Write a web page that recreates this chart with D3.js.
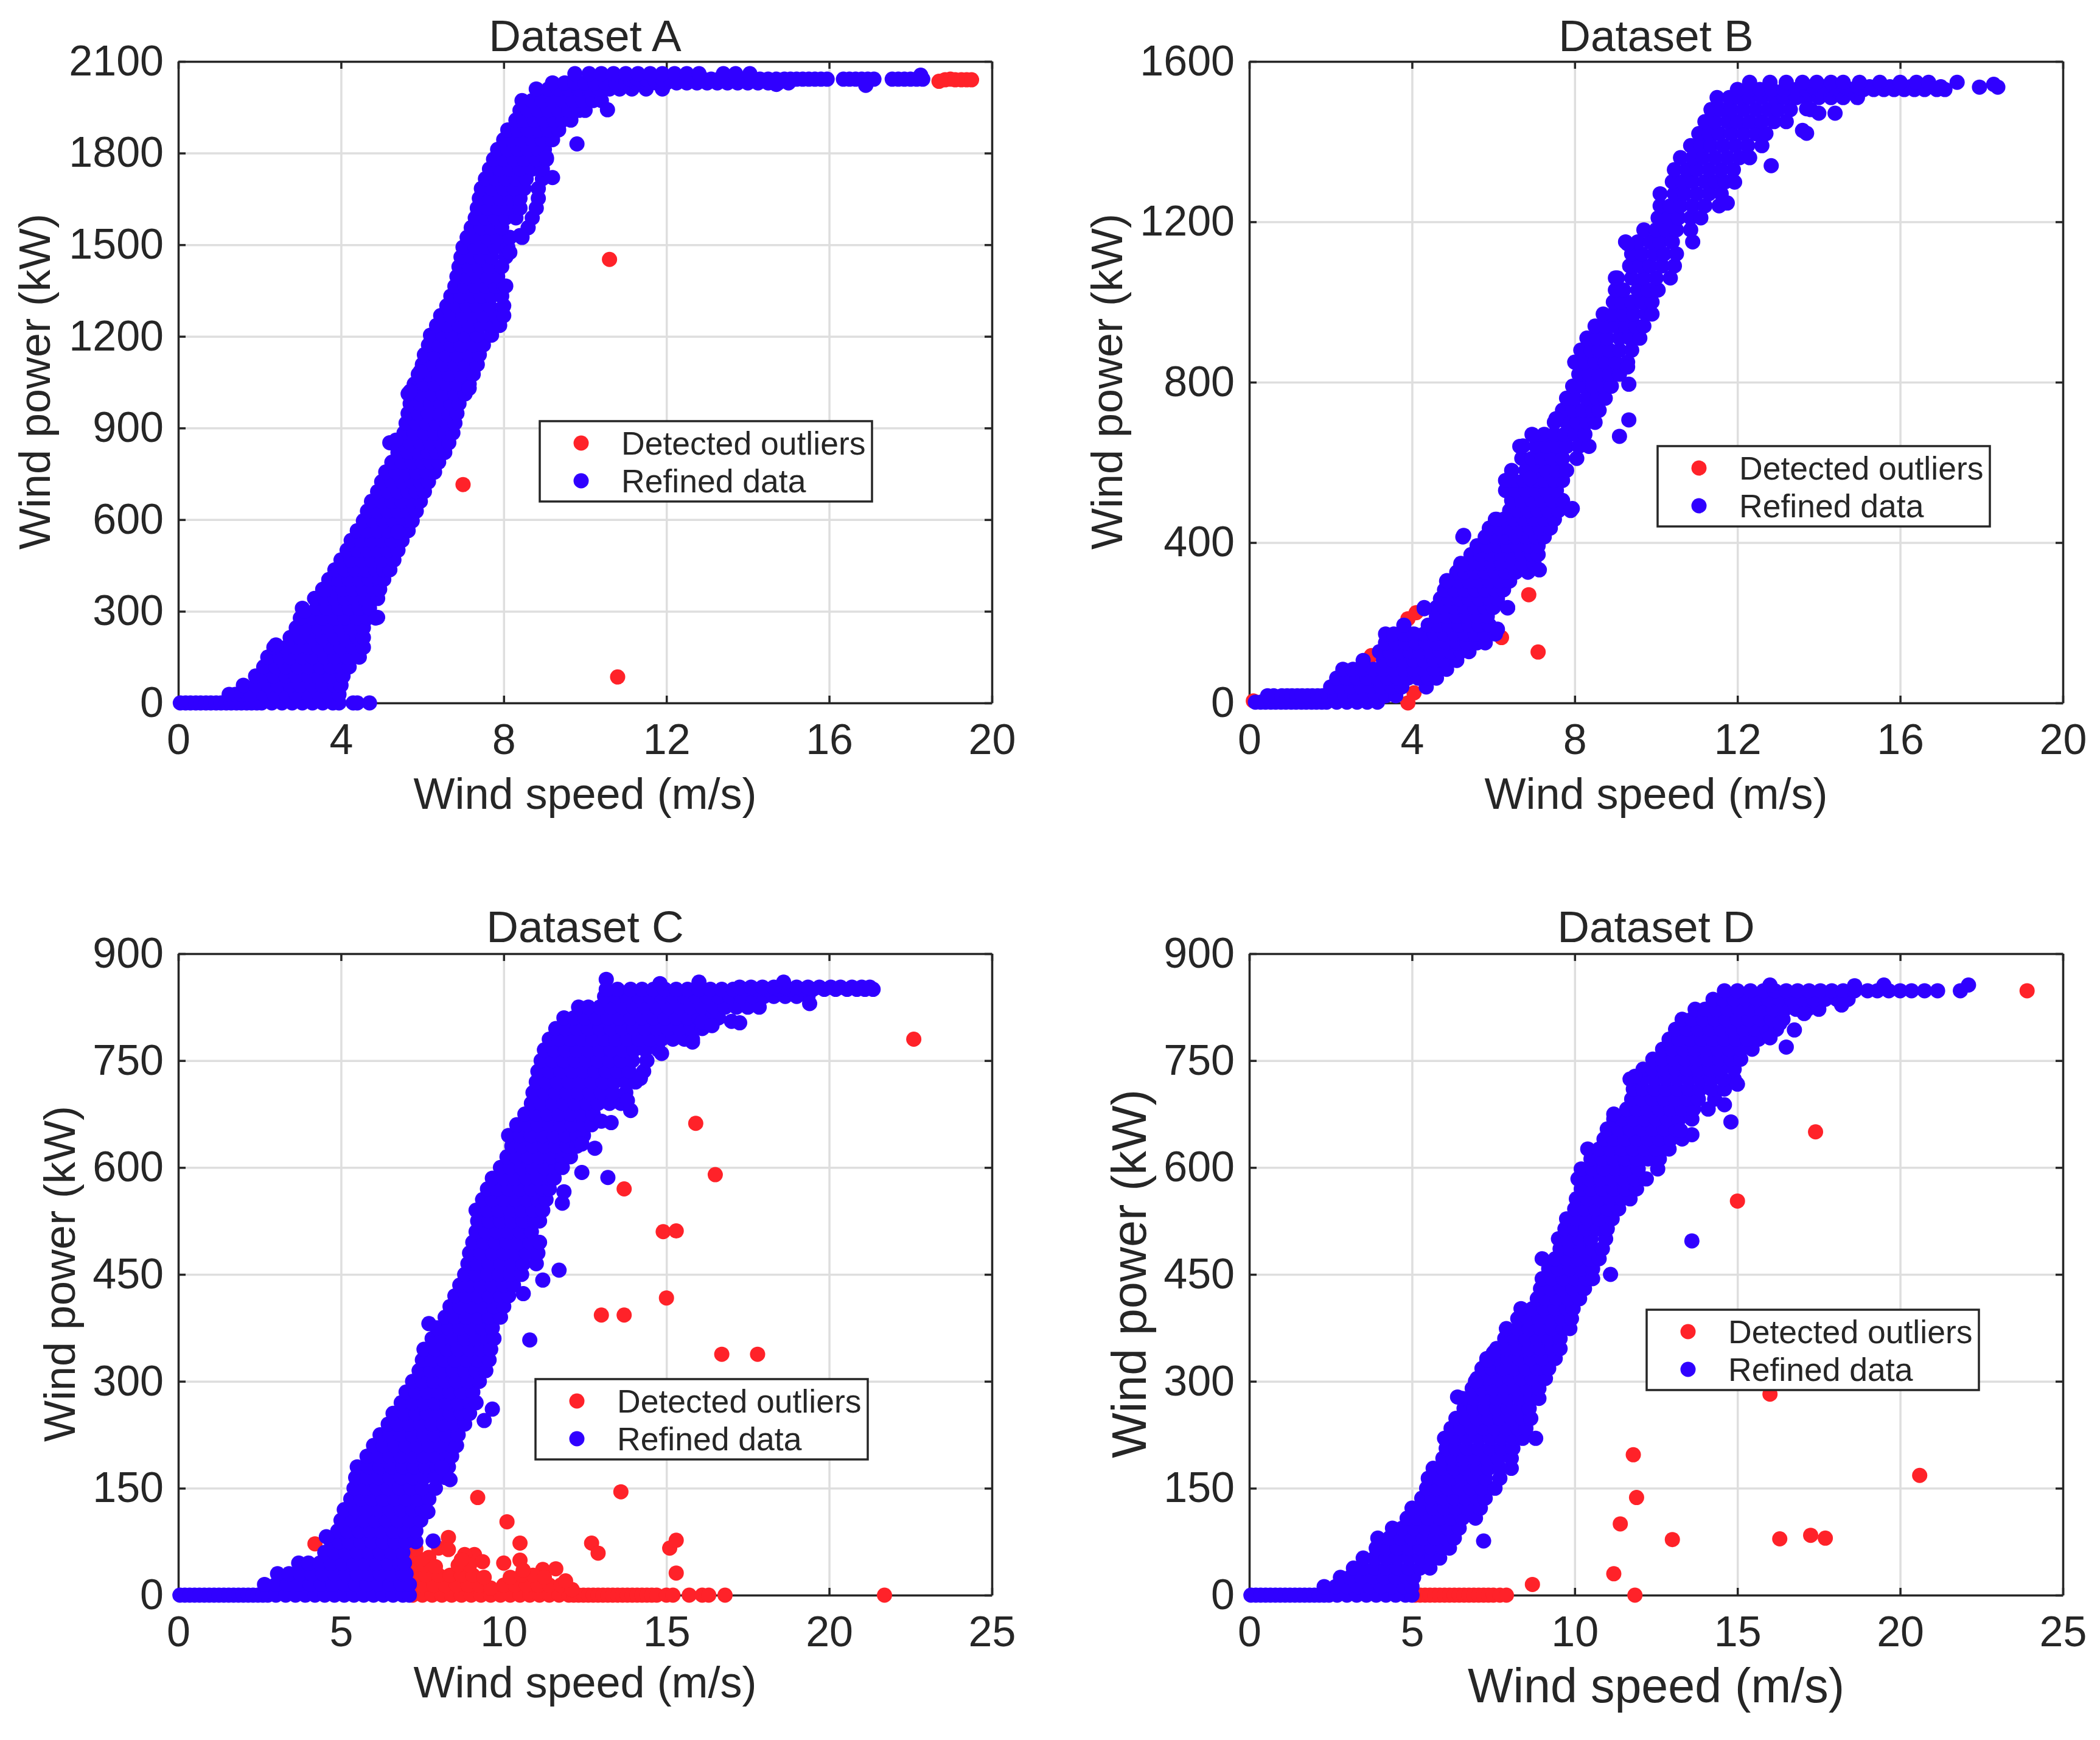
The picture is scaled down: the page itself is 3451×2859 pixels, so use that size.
<!DOCTYPE html>
<html>
<head>
<meta charset="utf-8">
<script src="https://cdnjs.cloudflare.com/ajax/libs/d3/7.8.5/d3.min.js"></script>
<style>
html, body { margin: 0; padding: 0; background: #fff; }
svg { display: block; }
text { font-family: "Liberation Sans", Arial, sans-serif; fill: #262626; }
</style>
</head>
<body>
<div id="chart"></div>
<script>
// each row is [power, speed, speed, ...]
const refinedRowsA = [
[0, .05,.18,.3,.43,.55,.68,.8,.93,1.05,1.18,1.3,1.43,1.55,1.68,1.8,1.93,2.05,2.3,2.55,2.8,3.05,3.3,3.55,3.8,3.95,4.3,4.4,4.7],
[28, 1.25,1.4,1.55,1.7,1.8,2.1,2.35,2.65,2.9,3.2,3.45,3.7,3.95],
[58, 1.6,1.9,2.2,2.45,2.75,3.0,3.3,3.55,3.85,4.0],
[88, 1.9,2.1,2.35,2.65,2.9,3.2,3.45,3.75,4.05],
[118, 2.1,2.4,2.65,2.95,3.2,3.5,3.75,4.0,4.2],
[150, 2.2,2.5,2.75,3.05,3.3,3.6,3.85,4.15,4.45],
[182, 2.35,2.65,2.9,3.2,3.45,3.75,4.0,4.3,4.55],
[214, 2.75,3.0,3.3,3.55,3.85,4.1,4.4,4.55],
[246, 2.9,3.15,3.45,3.7,4.0,4.25,4.55],
[278, 3.0,3.3,3.55,3.85,4.1,4.4,4.65,4.85],
[310, 3.05,3.4,3.65,3.95,4.2,4.45,4.7],
[342, 3.35,3.6,3.85,4.1,4.35,4.6,4.9],
[372, 3.55,3.8,4.05,4.3,4.55,4.8,4.95],
[404, 3.7,3.95,4.2,4.45,4.7,4.95,5.05],
[436, 3.85,4.1,4.35,4.6,4.85,5.05,5.2],
[468, 4.0,4.25,4.5,4.75,5.0,5.3],
[500, 4.15,4.4,4.65,4.9,5.15,5.4],
[532, 4.25,4.5,4.75,5.0,5.25,5.5],
[564, 4.4,4.65,4.9,5.15,5.4,5.65],
[596, 4.55,4.8,5.05,5.3,5.55,5.75],
[628, 4.65,4.9,5.15,5.4,5.65,5.85],
[660, 4.75,5.0,5.25,5.5,5.75,5.95],
[692, 4.9,5.15,5.4,5.65,5.85,6.05],
[724, 5.0,5.25,5.5,5.75,5.95,6.15],
[756, 5.1,5.35,5.6,5.85,6.1,6.3],
[788, 5.25,5.5,5.75,6.0,6.2,6.4],
[820, 5.4,5.65,5.9,6.15,6.35,6.55],
[852, 5.2,5.45,5.7,5.95,6.2,6.45,6.65],
[884, 5.55,5.8,6.05,6.3,6.55,6.75],
[916, 5.6,5.85,6.1,6.35,6.6,6.8],
[948, 5.65,5.9,6.15,6.4,6.65,6.85],
[980, 5.7,5.95,6.2,6.45,6.7,6.9],
[1012, 5.65,5.95,6.25,6.5,6.8,7.05],
[1044, 5.8,6.05,6.3,6.6,6.85,7.15],
[1076, 5.9,6.15,6.4,6.65,6.95,7.25],
[1108, 6.0,6.25,6.5,6.8,7.05,7.35],
[1140, 6.05,6.3,6.6,6.85,7.15,7.4],
[1172, 6.15,6.4,6.7,6.95,7.25,7.5],
[1204, 6.2,6.5,6.75,7.05,7.35,7.7],
[1236, 6.35,6.6,6.9,7.15,7.45,7.7,7.9],
[1268, 6.45,6.7,7.0,7.25,7.5,7.8,8.0],
[1300, 6.6,6.85,7.1,7.35,7.65,8.0],
[1332, 6.7,6.95,7.2,7.45,7.7,7.95],
[1364, 6.8,7.05,7.3,7.55,7.8,8.0],
[1396, 6.85,7.1,7.35,7.6,7.85],
[1428, 6.9,7.15,7.4,7.65,7.95],
[1460, 6.95,7.2,7.45,7.7,8.05],
[1492, 7.0,7.3,7.55,7.8,8.1],
[1524, 7.1,7.35,7.6,7.85,8.15,8.45],
[1556, 7.2,7.45,7.7,7.95,8.6],
[1588, 7.3,7.55,7.8,8.05,8.3,8.7],
[1620, 7.35,7.6,7.85,8.1,8.4,8.8],
[1652, 7.4,7.65,7.9,8.15,8.4,8.85],
[1684, 7.45,7.7,8.0,8.25,8.5,8.85],
[1716, 7.55,7.8,8.05,8.3,8.55,8.95],
[1748, 7.65,7.9,8.15,8.4,8.7,8.95],
[1780, 7.75,8.0,8.25,8.5,8.8,9.05],
[1812, 7.85,8.1,8.35,8.6,8.85,9.0],
[1844, 8.0,8.2,8.45,8.7,8.95,9.2],
[1876, 8.1,8.35,8.6,8.85,9.1,9.35],
[1908, 8.3,8.5,8.75,9.0,9.25,9.45,9.65],
[1940, 8.4,8.6,8.85,9.1,9.35,9.6,9.85,10.0],
[1972, 8.45,8.7,8.95,9.2,9.45,9.7,9.95,10.2,10.4],
[2010, 8.8,9.1,9.35,9.6,9.85,10.1,10.35,10.6,10.85,11.15,11.5,11.9],
[2030, 9.2,9.5,9.75,10.0,10.25,10.5,10.75,11.0,11.25,11.5,11.75,12.0,12.25,12.5,12.75,13.0,13.25,13.5,13.75,14.0,14.25,14.5,14.75,15.0],
[2042, 11.1,11.3,11.5,11.7,11.9,12.1,12.3,12.5,12.7,12.9,13.1,13.3,13.5,13.7,13.9,14.1,14.3,14.5,14.7,14.9,15.05,15.2,15.35,15.5,15.65,15.8,15.95,16.35,16.5,16.65,16.8,16.95,17.1,17.55,17.7,17.85,18.0,18.15,18.3],
[2060, 9.75,10.1,10.4,10.7,11.0,11.3,11.6,11.9,12.2,12.5,12.8,13.4,13.7,14.05],
];
const refinedExtraA = [[9.8,1830],[10.55,1942],[9.2,1720],[9.05,1785],[8.05,1365],[8.4,1530],[8.15,1475],[4.9,280],[5.4,560],[2.4,190],[3.1,300],[3.6,370],[5.35,860],[5.7,1020],[5.95,1085],[7.15,1030],[14.7,2025],[16.9,2022],[18.25,2055]];
const outliersA = [[7,715],[10.6,1452],[10.8,85],[18.7,2035],[18.85,2040],[18.98,2042],[19.1,2040],[19.25,2040],[19.38,2040],[19.5,2040]];

const refinedRowsB = [
[2, .15,.28,.4,.53,.65,.78,.9,1.03,1.15,1.28,1.4,1.53,1.65,1.78,1.9,2.15,2.4,2.65,2.9,3.15],
[18, .45,.6,.8,.93,1.05,1.18,1.3,1.43,1.55,1.68,1.8,1.95,2.1,2.35,2.6,2.85,3.1,3.35,3.6],
[40, 2.0,2.25,2.5,2.75,3.0,3.25,3.5,3.75,4.35],
[62, 2.15,2.4,2.65,2.9,3.15,3.4,3.65,3.9,4.15,4.4,4.6],
[84, 2.3,2.55,2.8,3.05,3.3,3.55,3.8,4.05,4.3,4.55,4.85],
[106, 2.8,3.3,3.55,3.8,4.05,4.3,4.55,4.8,5.1],
[128, 3.2,3.45,3.7,3.95,4.2,4.45,4.7,4.95,5.2,5.4],
[150, 3.35,3.6,3.85,4.1,4.35,4.6,4.85,5.1,5.35,5.6,5.8],
[172, 3.35,3.55,3.8,4.05,4.3,4.55,4.8,5.05,5.3,5.55,5.8,6.05],
[194, 3.8,4.4,4.65,4.9,5.15,5.4,5.65,5.9],
[216, 4.6,4.85,5.1,5.35,5.6,5.85],
[238, 4.3,4.6,4.8,5.05,5.3,5.55,5.8,6.0,6.35],
[260, 4.7,4.9,5.15,5.4,5.65,5.9,6.1],
[282, 4.8,5.05,5.3,5.55,5.8,6.05,6.25],
[304, 4.85,5.15,5.4,5.65,5.9,6.15,6.4],
[326, 5.1,5.3,5.55,5.8,6.05,6.3,6.55,6.85],
[348, 5.2,5.45,5.7,5.95,6.2,6.45,6.7,7.0],
[370, 5.45,5.7,5.95,6.2,6.45,6.7,6.95,7.1],
[392, 5.6,5.85,6.1,6.35,6.6,6.85,7.1],
[414, 5.25,5.8,6.05,6.3,6.55,6.8,7.05,7.25],
[436, 5.9,6.15,6.4,6.65,6.9,7.15,7.4],
[458, 6.05,6.25,6.5,6.75,7.0,7.25,7.5],
[480, 6.4,6.6,6.85,7.1,7.35,7.6,7.9],
[505, 6.45,6.7,6.95,7.2,7.45,7.7],
[530, 6.3,6.55,6.8,7.05,7.3,7.55],
[555, 6.5,6.75,7.0,7.25,7.5,7.7],
[580, 6.45,6.8,7.05,7.3,7.55,7.8],
[610, 6.7,6.95,7.2,7.45,7.7,8.05],
[640, 6.65,7.05,7.3,7.55,7.8,8.1,8.35],
[670, 6.95,7.25,7.5,7.75,8.0,8.25],
[700, 7.5,7.8,8.05,8.3,8.5],
[730, 7.7,7.95,8.2,8.45,8.6],
[760, 7.8,8.0,8.3,8.55,8.75],
[790, 7.95,8.2,8.45,8.7,8.9],
[820, 8.1,8.35,8.6,8.85,9.1],
[850, 8.0,8.25,8.5,8.75,9.0,9.3],
[880, 8.15,8.4,8.6,8.85,9.1,9.4],
[910, 8.3,8.55,8.8,9.1,9.35,9.6],
[940, 8.5,8.75,9.0,9.25,9.5,9.7],
[970, 8.7,8.95,9.2,9.45,9.75,9.9],
[1000, 8.95,9.15,9.4,9.65,9.9],
[1030, 9.0,9.2,9.55,9.8,10.05],
[1060, 9.0,9.4,9.7,10.0,10.35],
[1090, 9.35,9.6,9.85,10.15,10.45],
[1120, 9.4,9.65,9.95,10.2,10.5],
[1150, 9.25,9.55,9.85,10.1,10.4,10.9],
[1180, 9.7,10.0,10.25,10.5,10.85],
[1210, 10.05,10.3,10.55,10.85,11.1],
[1240, 10.1,10.35,10.6,10.9,11.2,11.55],
[1270, 10.1,10.45,10.7,11.0,11.3,11.6],
[1300, 10.4,10.65,10.9,11.2,11.45,11.7],
[1330, 10.45,10.75,11.0,11.3,11.6,11.9],
[1360, 10.6,10.9,11.15,11.45,11.75,12.05,12.3],
[1390, 10.85,11.1,11.35,11.65,11.95,12.25,12.6],
[1420, 11.05,11.3,11.55,11.85,12.15,12.45,12.7],
[1450, 11.2,11.45,11.75,12.0,12.3,12.6,12.9,13.2],
[1480, 11.35,11.6,11.85,12.15,12.45,12.75,13.0,13.3,13.8],
[1510, 11.5,11.8,12.05,12.3,12.6,12.9,13.15,13.45,13.7,14.0,14.3,14.6,14.95],
[1530, 12.0,12.3,12.55,12.85,13.15,13.45,13.7,14.0,14.25,14.5,14.8,15.1,15.35,15.6,15.85,16.1,16.35,16.6,16.9,17.1],
[1537, 13.85,14.1,14.4,14.65,14.95,15.25,15.5,15.75,16.0,16.25,16.5,16.75,17.0],
[1548, 12.3,12.8,13.2,13.6,13.95,14.3,14.6,15.0,15.5,16.0,16.4,16.7,17.4],
];
const refinedExtraB = [[9.1,665],[9.33,706],[9.33,795],[9.3,838],[12.83,1340],[11.93,1299],[11.75,1247],[13.7,1421],[13.6,1428],[14,1471],[14.4,1471],[13.7,1482],[17.95,1536],[18.3,1543],[18.4,1536],[5.27,418],[5.2,343],[4.86,305],[4.3,235],[6.08,458],[6.73,641],[6.97,668],[7.54,709],[7.94,485],[7.13,332],[6.35,237],[6.1,184],[6.9,560],[6.3,555],[9.3,1145],[9.05,1060]];
const outliersB = [[.1,5],[3.9,0],[4.05,25],[3,118],[3.9,210],[4.1,225],[6.2,163],[6.87,270],[7.1,127]];

const refinedRowsC = [
[0, .05,.2,.35,.5,.65,.8,.95,1.1,1.25,1.4,1.55,1.7,1.85,2.0,2.15,2.3,2.45,2.6,2.75,3.0,3.3,3.6,3.9,4.2,4.5,4.8,5.1,5.4,5.7,6.0,6.3,6.6,6.9,7.1],
[15, 2.65,3.0,3.35,3.7,4.05,4.4,4.75,5.1,5.45,5.8,6.15,6.5,6.85,7.1],
[30, 3.05,3.4,3.75,4.1,4.45,4.8,5.15,5.5,5.85,6.2,6.55,6.9,7.0],
[45, 3.7,4.0,4.35,4.7,5.05,5.4,5.75,6.1,6.45,6.8,6.95],
[60, 4.5,4.8,5.15,5.5,5.85,6.2,6.55,6.9],
[75, 4.7,4.95,5.25,5.6,5.95,6.3,6.65,7.0,7.3],
[90, 4.9,5.2,5.55,5.9,6.25,6.6,6.95,7.3],
[105, 5.0,5.35,5.7,6.05,6.4,6.75,7.1,7.45],
[120, 5.1,5.45,5.8,6.15,6.5,6.85,7.2,7.5],
[135, 5.3,5.6,5.95,6.3,6.65,7.0,7.35,7.7],
[150, 5.4,5.75,6.1,6.45,6.8,7.15,7.5,7.9],
[165, 5.45,5.8,6.15,6.5,6.85,7.2,7.55,7.9,8.2],
[180, 5.5,5.85,6.2,6.55,6.9,7.25,7.6,7.95,8.3],
[195, 5.8,6.15,6.5,6.85,7.2,7.55,7.9,8.25,8.4],
[210, 6.0,6.3,6.65,7.0,7.35,7.7,8.05,8.4,8.55],
[225, 6.2,6.5,6.85,7.2,7.55,7.9,8.25,8.6],
[240, 6.45,6.75,7.1,7.45,7.8,8.15,8.5,8.8],
[255, 6.6,6.95,7.3,7.65,8.0,8.35,8.7,8.95],
[270, 6.85,7.2,7.55,7.9,8.25,8.6,8.95,9.15],
[285, 7.0,7.3,7.65,8.0,8.35,8.7,9.05],
[300, 7.2,7.5,7.85,8.2,8.55,8.9,9.25],
[315, 7.4,7.75,8.1,8.45,8.8,9.15,9.45],
[330, 7.5,7.8,8.15,8.5,8.85,9.2,9.55],
[345, 7.55,7.9,8.25,8.6,8.95,9.3,9.6],
[360, 7.8,8.1,8.45,8.8,9.15,9.5,9.7],
[375, 7.95,8.3,8.65,9.0,9.35,9.65],
[390, 8.2,8.5,8.85,9.2,9.55,9.9],
[405, 8.35,8.65,9.0,9.35,9.7,10.0],
[420, 8.5,8.85,9.2,9.55,9.9,10.15],
[435, 8.65,8.95,9.3,9.65,10.0,10.3],
[450, 8.8,9.15,9.5,9.85,10.2,10.55],
[465, 8.9,9.2,9.55,9.9,10.25,10.6,11.0],
[480, 8.95,9.3,9.65,10.0,10.35,10.7,11.05],
[495, 9.05,9.4,9.75,10.1,10.45,10.8,11.1],
[510, 9.15,9.45,9.8,10.15,10.5,10.85],
[525, 9.2,9.55,9.9,10.25,10.6,10.95,11.1],
[540, 9.15,9.5,9.85,10.2,10.55,10.9,11.2],
[555, 9.35,9.65,10.0,10.35,10.7,11.05,11.3],
[570, 9.5,9.8,10.15,10.5,10.85,11.2,11.4],
[585, 9.65,10.0,10.35,10.7,11.05,11.4,11.55],
[600, 9.9,10.2,10.55,10.9,11.25,11.6,11.8],
[615, 10.1,10.4,10.75,11.1,11.45,11.8,12.05],
[630, 10.25,10.55,10.9,11.25,11.6,11.95,12.25],
[645, 10.15,10.5,10.85,11.2,11.55,11.9,12.25,12.45],
[660, 10.4,10.7,11.05,11.4,11.75,12.1,12.45,12.7],
[675, 10.65,11.0,11.35,11.7,12.05,12.4,12.75],
[690, 10.85,11.15,11.5,11.85,12.2,12.55,12.9,13.25,13.6],
[705, 10.9,11.25,11.6,11.95,12.3,12.65,13.0,13.35,13.75],
[720, 11.0,11.3,11.65,12.0,12.35,12.7,13.05,13.4,13.75,14.05],
[735, 11.05,11.4,11.75,12.1,12.45,12.8,13.15,13.5,13.85,14.3],
[750, 11.15,11.5,11.85,12.2,12.55,12.9,13.25,13.6,13.95,14.4],
[765, 11.25,11.55,11.9,12.25,12.6,12.95,13.3,13.65,14.0,14.35,14.75],
[780, 11.4,11.7,12.05,12.4,12.75,13.1,13.45,13.8,14.15,14.5,14.85,15.2,15.55,15.8],
[795, 11.6,11.9,12.25,12.6,12.95,13.3,13.65,14.0,14.35,14.7,15.05,15.4,15.75,16.1],
[810, 11.85,12.15,12.5,12.85,13.2,13.55,13.9,14.25,14.6,14.95,15.3,15.65,16.0,16.3,16.6],
[825, 12.3,12.6,12.95,13.3,13.65,14.0,14.35,14.7,15.05,15.4,15.75,16.1,16.45,16.8,17.15,17.5,17.85],
[840, 13.1,13.45,13.8,14.15,14.5,14.85,15.2,15.55,15.9,16.25,16.6,16.95,17.3,17.65,18.0,18.3,18.65,19.0,19.35],
[850, 13.5,13.9,14.25,14.6,14.95,15.3,15.65,16.0,16.35,16.7,17.05,17.4,17.75,18.1,18.45,18.8,19.15,19.5,19.85,20.2,20.55,20.85,21.1,21.35],
[853, 17.25,17.6,17.95,18.3,18.65,19.0,19.35,19.7,20.05,20.35,20.7,21.0,21.25],
];
const refinedExtraC = [[7.7,381],[10.8,358],[9.65,261],[9.4,245],[8.1,179],[8.35,162],[7.67,117],[7.83,76],[4.55,82],[11.7,456],[11.2,442],[10.6,423],[11.8,550],[11.85,566],[12.4,593],[13.2,586],[12.4,633],[12.8,627],[13,665],[13.3,663],[13.9,680],[13.8,694],[14.2,725],[14.85,760],[15.8,776],[16.1,804],[16.4,799],[17,805],[17.25,803],[19.4,830],[13.15,864],[13.15,850],[14.8,858],[16,860],[18.6,860]];
const outliersC = [[4.2,72],[9.2,137],[10.1,103],[8.3,81],[10.5,73],[10,45],[10.5,49],[11.2,36],[11.6,37],[9.1,57],[9.35,47],[7.7,53],[8,66],[8.3,64],[8.8,57],[12.7,73],[12.9,59],[13.6,145],[15.1,66],[15.3,77],[15.3,31],[22.6,780],[15.9,662],[16.5,590],[13.7,570],[14.9,510],[15.3,511],[15,417],[13,393],[13.7,393],[16.7,338],[17.8,338],[21.7,0],
[7.2,0],[7.5,0],[7.8,0],[8.1,0],[8.4,0],[8.7,0],[9,0],[9.3,0],[9.6,0],[9.9,0],[10.2,0],[10.5,0],[10.8,0],[11.1,0],[11.4,0],[11.7,0],[12,0],[12.15,0],[12.3,0],[12.45,0],[12.6,0],[12.75,0],[12.9,0],[13.05,0],[13.2,0],[13.35,0],[13.5,0],[13.65,0],[13.8,0],[13.95,0],[14.1,0],[14.25,0],[14.4,0],[14.55,0],[14.7,0],[15,0],[15.2,0],[15.7,0],[16.1,0],[16.3,0],[16.8,0],
[7.2,14],[7.5,14],[7.85,14],[8.2,14],[8.55,14],[8.9,14],[9.25,14],[9.6,10],[10,14],[10.35,14],[10.7,14],[11.05,14],[11.4,14],[11.75,14],[12.1,8],
[7.3,28],[7.6,28],[8.0,28],[8.35,28],[8.7,28],[9.05,28],[9.4,25],[10.2,25],[10.55,28],[10.9,28],[11.25,25],[11.9,20],
[7.25,42],[7.55,42],[7.9,40],[8.6,42],[8.95,42],[10.6,35],
[7.25,55],[7.45,50],[7.3,65],[8.7,50]];

const refinedRowsD = [
[0, .05,.2,.35,.5,.65,.8,.95,1.1,1.25,1.4,1.55,1.7,1.85,2.0,2.15,2.3,2.45,2.7,3.0,3.3,3.6,3.9,4.2,4.5,4.8,5.0],
[12, 2.3,2.65,3.0,3.35,3.7,4.05,4.4,4.75,5.0],
[25, 2.8,3.1,3.45,3.8,4.15,4.5,4.85,5.05],
[38, 3.2,3.5,3.85,4.2,4.55,4.9,5.25,5.55],
[52, 3.5,3.85,4.2,4.55,4.9,5.25,5.6,5.85],
[66, 3.9,4.2,4.55,4.9,5.25,5.6,5.95,6.15],
[80, 3.95,4.3,4.65,5.0,5.35,5.7,6.05,6.3],
[94, 4.4,4.7,5.05,5.4,5.75,6.1,6.45],
[108, 4.85,5.15,5.5,5.85,6.2,6.55,6.95],
[122, 5.0,5.3,5.65,6.0,6.35,6.7,7.1],
[136, 5.3,5.6,5.95,6.3,6.65,7.0,7.25],
[150, 5.45,5.75,6.1,6.45,6.8,7.15,7.55],
[164, 5.5,5.85,6.2,6.55,6.9,7.25,7.7],
[178, 5.65,5.95,6.3,6.65,7.0,7.35,7.7,8.05],
[192, 5.95,6.25,6.6,6.95,7.3,7.65,8.05],
[206, 6.05,6.35,6.7,7.05,7.4,7.75,8.1],
[220, 6.0,6.35,6.7,7.05,7.4,7.75,8.1,8.4,8.8],
[234, 6.2,6.5,6.85,7.2,7.55,7.9,8.25,8.5],
[248, 6.35,6.65,7.0,7.35,7.7,8.05,8.4,8.65],
[262, 6.6,6.9,7.25,7.6,7.95,8.3,8.6],
[276, 6.55,6.9,7.25,7.6,7.95,8.3,8.65,8.9],
[290, 6.85,7.15,7.5,7.85,8.2,8.55,8.9],
[304, 7.0,7.3,7.65,8.0,8.35,8.7,9.1],
[318, 7.15,7.45,7.8,8.15,8.5,8.85,9.2],
[332, 7.3,7.6,7.95,8.3,8.65,9.0,9.4],
[346, 7.6,7.9,8.25,8.6,8.95,9.3,9.55],
[360, 7.85,8.15,8.5,8.85,9.2,9.55],
[374, 7.9,8.25,8.6,8.95,9.3,9.65,9.85],
[388, 8.25,8.55,8.9,9.25,9.6,9.9],
[402, 8.35,8.7,9.05,9.4,9.75,9.95],
[416, 8.85,9.1,9.45,9.8,10.15],
[430, 8.95,9.25,9.6,9.95,10.3],
[444, 9.0,9.3,9.65,10.0,10.35,10.55],
[458, 9.2,9.5,9.85,10.2,10.55],
[472, 9.0,9.4,9.75,10.1,10.45,10.75],
[486, 9.55,9.85,10.2,10.55,10.85],
[500, 9.5,9.8,10.15,10.5,10.95],
[514, 9.7,10.0,10.35,10.7,11.0],
[528, 9.75,10.05,10.4,10.75,11.15],
[542, 10.0,10.3,10.65,11.0,11.35],
[556, 10.05,10.4,10.75,11.1,11.45,11.7],
[570, 10.2,10.5,10.85,11.2,11.55,11.9],
[584, 10.1,10.45,10.8,11.15,11.5,11.85,12.2],
[598, 10.2,10.55,10.9,11.25,11.6,11.95,12.55],
[612, 10.5,10.85,11.2,11.55,11.9,12.25,12.6],
[626, 10.4,10.75,11.1,11.45,11.8,12.15,12.5,12.9],
[640, 10.9,11.2,11.55,11.9,12.25,12.6,12.95,13.3],
[654, 11.0,11.35,11.7,12.05,12.4,12.75,13.1],
[668, 11.2,11.45,11.8,12.15,12.5,12.85,13.2,13.6],
[682, 11.6,11.9,12.25,12.6,12.95,13.3,13.65,14.1],
[696, 11.75,12.05,12.4,12.75,13.1,13.45,13.8,14.3],
[710, 11.8,12.1,12.45,12.8,13.15,13.5,13.85,14.2,14.6],
[724, 11.7,12.1,12.45,12.8,13.15,13.5,13.85,14.2,14.55,14.9],
[738, 12.1,12.4,12.75,13.1,13.45,13.8,14.15,14.5,14.9],
[752, 12.4,12.7,13.05,13.4,13.75,14.1,14.45,14.8,15.1],
[766, 12.7,13.0,13.35,13.7,14.05,14.4,14.75,15.1,15.45],
[780, 12.9,13.2,13.55,13.9,14.25,14.6,14.95,15.3,15.65],
[794, 13.1,13.45,13.8,14.15,14.5,14.85,15.2,15.55,15.9,16.2],
[808, 13.3,13.6,13.95,14.3,14.65,15.0,15.35,15.7,16.05,16.4],
[822, 13.7,14.0,14.35,14.7,15.05,15.4,15.75,16.1,16.45,16.8,17.15,17.5],
[836, 14.25,14.55,14.9,15.25,15.6,15.95,16.3,16.65,17.0,17.35,17.7,18.05,18.4],
[848, 14.6,15.0,15.4,15.8,16.15,16.5,16.85,17.2,17.55,17.9,18.25,18.6,19.0,19.3,19.65,20.0,20.35,20.75,21.15],
];
const refinedExtraD = [[13.6,497],[11.1,450],[7.2,76],[6.4,278],[6.95,300],[7.3,330],[7.5,340],[14.8,664],[15,717],[14.6,688],[13.6,646],[13.25,652],[11.2,675],[16.5,769],[16.75,793],[17.05,816],[18.2,828],[16.3,802],[16,782],[21.85,848],[22.1,856],[16,856],[18.6,855],[19.5,856],[11.85,728]];
const outliersD = [[5.1,0],[5.25,0],[5.4,0],[5.55,0],[5.7,0],[5.85,0],[6,0],[6.15,0],[6.3,0],[6.45,0],[6.6,0],[6.75,0],[6.9,0],[7.05,0],[7.2,0],[7.35,0],[7.5,0],[7.7,0],[7.9,0],[8.7,15],[11.2,30],[11.85,0],[11.4,100],[11.9,137],[11.8,197],[13,78],[16.3,79],[17.25,84],[17.7,80],[20.6,168],[16,282],[15,553],[17.4,650],[23.9,848]];

const ticksX20 = [0, 4, 8, 12, 16, 20];
const ticksX25 = [0, 5, 10, 15, 20, 25];
const ticksYA = [0, 300, 600, 900, 1200, 1500, 1800, 2100];
const ticksYB = [0, 400, 800, 1200, 1600];
const ticksYCD = [0, 150, 300, 450, 600, 750, 900];
const legendLabels = ["Detected outliers", "Refined data"];
const xTitle = "Wind speed (m/s)";
const yTitle = "Wind power (kW)";

const blue = "#3000ff";
const red = "#ff2229";
const ink = "#262626";
const r = 12.5;

const width = 3451;
const height = 2859;
const plotW = 1337;
const plotH = 1054;

const toPoints = rows => rows.flatMap(row => row.slice(1).map(x => [x, row[0]]));

const panels = [
    { title: "Dataset A", left: 293, top: 101, ticksX: ticksX20, ticksY: ticksYA, refined: toPoints(refinedRowsA).concat(refinedExtraA), outliers: outliersA,
      titleY: 84, xLabelY: 1329, yLabelX: 58, xSize: 72, ySize: 72, legend: [887, 692] },
    { title: "Dataset B", left: 2053, top: 101, ticksX: ticksX20, ticksY: ticksYB, refined: toPoints(refinedRowsB).concat(refinedExtraB), outliers: outliersB,
      titleY: 84, xLabelY: 1329, yLabelX: 1820, xSize: 72, ySize: 72, legend: [2724, 733] },
    { title: "Dataset C", left: 293, top: 1567, ticksX: ticksX25, ticksY: ticksYCD, refined: toPoints(refinedRowsC).concat(refinedExtraC), outliers: outliersC,
      titleY: 1548, xLabelY: 2789, yLabelX: 99, xSize: 72, ySize: 72, legend: [880, 2266] },
    { title: "Dataset D", left: 2053, top: 1567, ticksX: ticksX25, ticksY: ticksYCD, refined: toPoints(refinedRowsD).concat(refinedExtraD), outliers: outliersD,
      titleY: 1548, xLabelY: 2797, yLabelX: 1859, xSize: 79, ySize: 79, legend: [2706, 2152] },
];

const svg = d3.select("#chart")
    .append("svg")
    .attr("width", width)
    .attr("height", height);

panels.forEach(drawPanel);

function drawPanel(p) {
    const g = svg.append("g").attr("transform", `translate(${p.left},${p.top})`);
    const x = d3.scaleLinear().domain([0, d3.max(p.ticksX)]).range([0, plotW]);
    const y = d3.scaleLinear().domain([0, d3.max(p.ticksY)]).range([plotH, 0]);

    // grid
    g.append("g")
        .attr("transform", `translate(0,${plotH})`)
        .call(d3.axisBottom(x).tickValues(p.ticksX).tickSize(-plotH).tickFormat(""))
        .call(a => a.select(".domain").remove())
        .selectAll("line").attr("stroke", "#dedede").attr("stroke-width", 3.5);
    g.append("g")
        .call(d3.axisLeft(y).tickValues(p.ticksY).tickSize(-plotW).tickFormat(""))
        .call(a => a.select(".domain").remove())
        .selectAll("line").attr("stroke", "#dedede").attr("stroke-width", 3.5);

    // box and ticks on all four sides, pointing in
    const axes = [
        [d3.axisBottom(x).tickValues(p.ticksX), `translate(0,${plotH})`, 34],
        [d3.axisTop(x).tickValues(p.ticksX), "translate(0,0)", 0],
        [d3.axisLeft(y).tickValues(p.ticksY), "translate(0,0)", 24],
        [d3.axisRight(y).tickValues(p.ticksY), `translate(${plotW},0)`, 0],
    ];
    axes.forEach(([axis, tr, pad]) => {
        const a = g.append("g")
            .attr("transform", tr)
            .call(axis.tickSizeInner(-12).tickSizeOuter(0).tickPadding(pad).tickFormat(d3.format("d")));
        a.selectAll("path, line").attr("stroke", ink).attr("stroke-width", 3.5);
        a.selectAll("text").style("font-size", "70px").style("font-family", null).attr("fill", null);
        if (!pad) a.selectAll("text").remove();
    });

    g.selectAll(".out")
        .data(p.outliers)
        .enter()
        .append("circle")
        .attr("cx", d => x(d[0]))
        .attr("cy", d => y(d[1]))
        .attr("r", r)
        .attr("fill", red);

    g.selectAll(".ref")
        .data(p.refined)
        .enter()
        .append("circle")
        .attr("cx", d => x(d[0]))
        .attr("cy", d => y(d[1]))
        .attr("r", r)
        .attr("fill", blue);

    svg.append("text")
        .attr("x", p.left + plotW / 2)
        .attr("y", p.titleY)
        .attr("text-anchor", "middle")
        .style("font-size", "73px")
        .text(p.title);

    svg.append("text")
        .attr("x", p.left + plotW / 2)
        .attr("y", p.xLabelY)
        .attr("text-anchor", "middle")
        .style("font-size", p.xSize + "px")
        .text(xTitle);

    svg.append("text")
        .attr("transform", `translate(${p.yLabelX + 24},${p.top + plotH / 2 - 1}) rotate(-90)`)
        .attr("text-anchor", "middle")
        .style("font-size", p.ySize + "px")
        .text(yTitle);

    // legend
    const lg = svg.append("g").attr("transform", `translate(${p.legend[0]},${p.legend[1]})`);
    lg.append("rect")
        .attr("width", 546)
        .attr("height", 132)
        .attr("fill", "#fff")
        .attr("stroke", ink)
        .attr("stroke-width", 3.5);
    legendLabels.forEach((label, i) => {
        const rowY = 36 + i * 62;
        lg.append("circle").attr("cx", 68).attr("cy", rowY).attr("r", r).attr("fill", i === 0 ? red : blue);
        lg.append("text")
            .attr("x", 134)
            .attr("y", rowY + 19)
            .style("font-size", "53.5px")
            .text(label);
    });
}
</script>
</body>
</html>
